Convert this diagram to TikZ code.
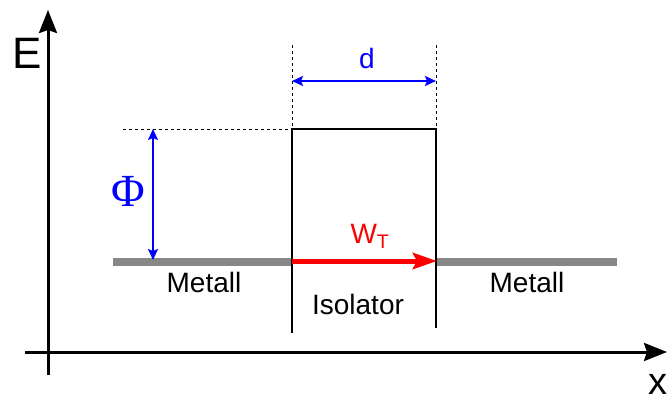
\documentclass[tikz,border=0pt]{standalone}
\usepackage{fontspec}
\setmainfont{Liberation Sans}
\newfontfamily\phifont{Liberation Serif}
\usetikzlibrary{arrows.meta}
\begin{document}
\begin{tikzpicture}[x=1pt,y=-1pt,
  axis/.style={line width=3pt,-{Stealth[length=23pt,width=18pt,inset=3pt]}},
  dim/.style={blue,line width=1.8pt,{Stealth[length=11pt,width=10pt,inset=2pt]}-{Stealth[length=11pt,width=10pt,inset=2pt]}},
  guide/.style={dashed,line width=1pt},
  wall/.style={line width=2.5pt},
  metal/.style={black!47,line width=8pt},
  lbl/.style={font=\fontsize{28}{30}\selectfont,inner sep=0pt}]
\useasboundingbox (0,0) rectangle (667,394);
% coordinates
\coordinate (yb) at (48,375); \coordinate (yt) at (48,10);
\coordinate (xl) at (25,352); \coordinate (xr) at (667,352);
\coordinate (ml1) at (113,262); \coordinate (ml2) at (292,262);
\coordinate (mr1) at (436,262); \coordinate (mr2) at (617,262);
\coordinate (bl) at (292,333); \coordinate (tl) at (292,129);
\coordinate (tr) at (436,129); \coordinate (br) at (436,328);
\coordinate (dl) at (292,45); \coordinate (dr) at (436,45);
\coordinate (da) at (292,81); \coordinate (db) at (436,81);
\coordinate (hl) at (123,129);
\coordinate (pa) at (153,129); \coordinate (pb) at (153,260);
\coordinate (wa) at (292,261); \coordinate (wb) at (437,261);
% metals
\draw[metal] (ml1) -- (ml2);
\draw[metal] (mr1) -- (mr2);
% axes
\draw[axis] (yb) -- (yt);
\draw[axis] (xl) -- (xr);
\node[lbl,font=\fontsize{44}{46}\selectfont] (E) at (27,53) {E};
\node[lbl,font=\fontsize{38}{40}\selectfont] (X) at (658,384) {x};
% barrier
\draw[wall] (bl) -- (tl) -- (tr) -- (br);
\draw[guide] (dl) -- (tl);
\draw[guide] (dr) -- (tr);
\draw[guide] (hl) -- (tl);
% dimensions
\draw[dim] (da) -- (db);
\node[lbl,blue] (d) at (367,58) {d};
\draw[dim] (pa) -- (pb);
\node[lbl,blue,font=\fontsize{46}{48}\selectfont\phifont] (phi) at (128,191) {Φ};
% tunnel arrow
\draw[red,line width=5pt,-{Stealth[length=24pt,width=16pt,inset=4pt]}] (wa) -- (wb);
\node[lbl,red] (W) at (370,236) {W\textsubscript{T}};
% labels
\node[lbl] (m1) at (204,282) {Metall};
\node[lbl] (iso) at (358,304) {Isolator};
\node[lbl] (m2) at (527,282) {Metall};
\end{tikzpicture}
\end{document}
